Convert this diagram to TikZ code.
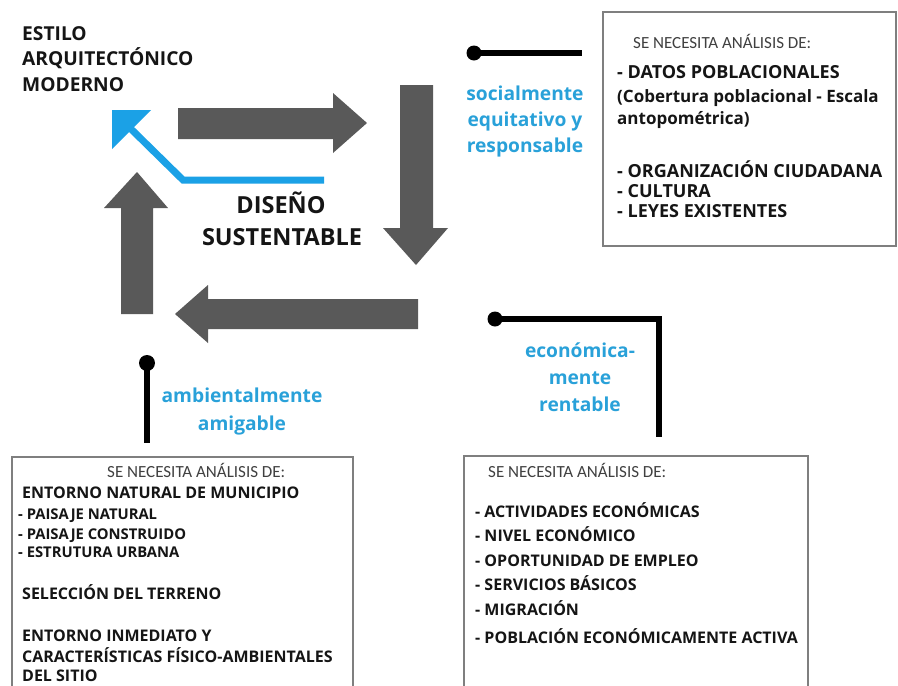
\documentclass[tikz,border=0pt]{standalone}
\usepackage{fontspec}
\setmainfont{Open Sans}
\newfontfamily\carl{Carlito}
\definecolor{arrowgray}{HTML}{595959}
\definecolor{txtblue}{HTML}{29A1D9}
\definecolor{arrblue}{HTML}{1BA1E6}
\definecolor{hdrgray}{HTML}{404040}
\definecolor{boxgray}{HTML}{7F7F7F}
\definecolor{ink}{HTML}{151515}
\tikzset{
  blockarrow/.style={fill=arrowgray, draw=none},
  conn/.style={line width=6pt, draw=black, line join=miter},
  dotend/.style={fill=black},
  boxline/.style={draw=boxgray, line width=1.4pt},
  titletxt/.style={inner sep=0, anchor=base west, text=ink, font=\bfseries\fontsize{19.2}{23}\selectfont},
  centertxt/.style={inner sep=0, anchor=base, text=ink, font=\bfseries\fontsize{23.5}{28}\selectfont},
  bluetxt/.style={inner sep=0, anchor=base, text=txtblue, font=\bfseries\fontsize{19.2}{23}\selectfont},
  hdrtxt/.style={inner sep=0, anchor=base west, text=hdrgray, font=\carl\fontsize{17}{20}\selectfont},
  itemtxt/.style={inner sep=0, anchor=base west, text=ink, font=\bfseries\fontsize{16}{19}\selectfont},
  bigitem/.style={inner sep=0, anchor=base west, text=ink, font=\bfseries\fontsize{18}{21}\selectfont},
  miditem/.style={inner sep=0, anchor=base west, text=ink, font=\bfseries\fontsize{17}{20}\selectfont},
  subtxt/.style={inner sep=0, anchor=base west, text=ink, font=\bfseries\fontsize{14.8}{17}\selectfont},
}
\begin{document}
\begin{tikzpicture}[x=1pt,y=-1pt]
\useasboundingbox[fill=white] (0,0) rectangle (898,686);

% ---- title
\node[titletxt] (t1) at (22,40) {ESTILO};
\node[titletxt] (t2) at (22,65) {ARQUITECTÓNICO};
\node[titletxt] (t3) at (22,91) {MODERNO};

% ---- block arrows (cycle)
\fill[blockarrow] (178,108) -- (333,108) -- (333,93) -- (367,123) -- (333,153) -- (333,139) -- (178,139) -- cycle;
\fill[blockarrow] (400,85) -- (433,85) -- (433,228) -- (448,228) -- (416,265) -- (383,228) -- (400,228) -- cycle;
\fill[blockarrow] (418,299) -- (418,329) -- (208,329) -- (208,343) -- (175,314) -- (208,285) -- (208,299) -- cycle;
\fill[blockarrow] (121,314) -- (121,208) -- (104,208) -- (137,172) -- (168,208) -- (153,208) -- (153,314) -- cycle;

% ---- blue arrow
\coordinate (bA) at (324,180);
\coordinate (bB) at (183,180);
\coordinate (bC) at (130,128);
\draw[arrblue, line width=7pt] (bA) -- (bB) -- (bC);
\fill[arrblue] (112,110) -- (151,110) -- (112,149) -- cycle;

% ---- centre
\node[centertxt] (c1) at (281,213) {DISEÑO};
\node[centertxt] (c2) at (282,245) {SUSTENTABLE};

% ---- connectors with dots
\coordinate (dS) at (474,53);
\coordinate (eS) at (582,53);
\draw[conn] (dS) -- (eS);
\fill[dotend] (dS) circle (7.5);

\coordinate (dE) at (495,319);
\coordinate (kE) at (659,319);
\coordinate (eE) at (659,437);
\draw[conn] (dE) -- (kE) -- (eE);
\fill[dotend] (dE) circle (7.5);

\coordinate (dA) at (147,363);
\coordinate (eA) at (147,443);
\draw[conn] (dA) -- (eA);
\fill[dotend] (dA) circle (8);

% ---- blue labels
\node[bluetxt] (s1) at (525,100) {socialmente};
\node[bluetxt] (s2) at (525,126) {equitativo y};
\node[bluetxt] (s3) at (525,152) {responsable};

\node[bluetxt] (a1) at (242,402) {ambientalmente};
\node[bluetxt] (a2) at (242,430) {amigable};

\node[bluetxt] (e1) at (580,357) {económica-};
\node[bluetxt] (e2) at (580,384) {mente};
\node[bluetxt] (e3) at (580,411) {rentable};

% ---- top right box
\draw[boxline] (603,12) rectangle (896,246);
\node[hdrtxt] (h1) at (633,48) {SE NECESITA ANÁLISIS DE:};
\node[bigitem] (r1) at (617,78) {- DATOS POBLACIONALES};
\node[miditem] (r2) at (617,102) {(Cobertura poblacional - Escala};
\node[miditem] (r3) at (617,124) {antopométrica)};
\node[bigitem] (r4) at (617,177) {- ORGANIZACIÓN CIUDADANA};
\node[bigitem] (r5) at (617,197) {- CULTURA};
\node[bigitem] (r6) at (617,217) {- LEYES EXISTENTES};

% ---- bottom left box
\draw[boxline] (12,687) -- (12,457) -- (353,457) -- (353,687);
\node[hdrtxt] (h2) at (107,477) {SE NECESITA ANÁLISIS DE:};
\node[itemtxt] (l1) at (22,498) {ENTORNO NATURAL DE MUNICIPIO};
\node[subtxt] (l2) at (18,519) {- PAISAJE NATURAL};
\node[subtxt] (l3) at (18,539) {- PAISAJE CONSTRUIDO};
\node[subtxt] (l4) at (18,557) {- ESTRUTURA URBANA};
\node[itemtxt] (l5) at (22,599) {SELECCIÓN DEL TERRENO};
\node[itemtxt] (l6) at (22,641) {ENTORNO INMEDIATO Y};
\node[itemtxt] (l7) at (22,662) {CARACTERÍSTICAS FÍSICO-AMBIENTALES};
\node[itemtxt] (l8) at (22,681) {DEL SITIO};

% ---- bottom right box
\draw[boxline] (464,687) -- (464,456) -- (808,456) -- (808,687);
\node[hdrtxt] (h3) at (488,477) {SE NECESITA ANÁLISIS DE:};
\node[itemtxt] (m1) at (475,517) {- ACTIVIDADES ECONÓMICAS};
\node[itemtxt] (m2) at (475,541) {- NIVEL ECONÓMICO};
\node[itemtxt] (m3) at (475,566) {- OPORTUNIDAD DE EMPLEO};
\node[itemtxt] (m4) at (475,590) {- SERVICIOS BÁSICOS};
\node[itemtxt] (m5) at (475,615) {- MIGRACIÓN};
\node[itemtxt] (m6) at (475,643) {- POBLACIÓN ECONÓMICAMENTE ACTIVA};
\end{tikzpicture}
\end{document}
